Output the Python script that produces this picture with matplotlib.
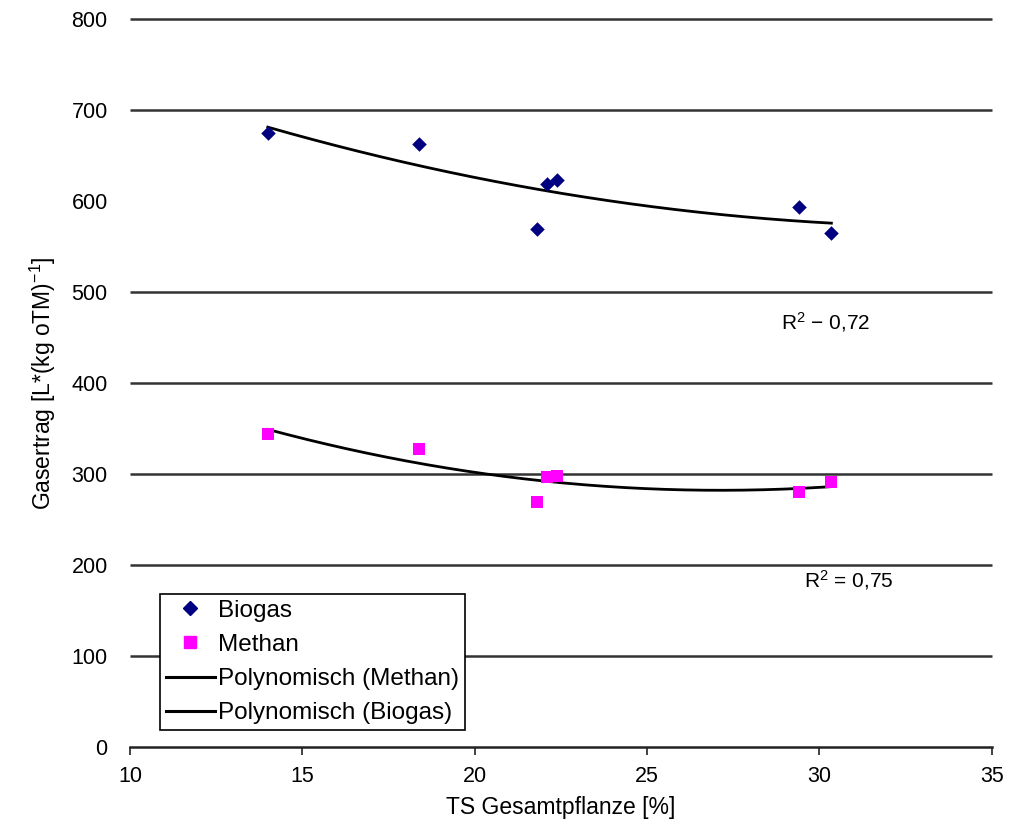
import numpy as np
import matplotlib
matplotlib.use("Agg")
import matplotlib.pyplot as plt
from matplotlib.lines import Line2D

plt.rcParams['font.family'] = ['Liberation Sans', 'DejaVu Sans']
plt.rcParams['mathtext.fontset'] = 'custom'
plt.rcParams['mathtext.rm'] = 'Liberation Sans'
plt.rcParams['mathtext.it'] = 'Liberation Sans'

# Data
ts = [14.0, 18.4, 21.8, 22.1, 22.4, 29.4, 30.35]
biogas = [675, 663, 569, 619, 623, 593, 565]
methan = [344, 328, 269, 297, 298, 280, 291]
x_ticks = [10, 15, 20, 25, 30, 35]
y_ticks = [0, 100, 200, 300, 400, 500, 600, 700, 800]
grid_values = [100, 200, 300, 400, 500, 700, 800]
r2_biogas = "0,72"
r2_methan = "0,75"

fig = plt.figure(figsize=(10.15, 8.27), dpi=100)
ax = fig.add_axes([0.128, 0.0967, 0.849, 0.8803])

ax.set_xlim(10, 35)
ax.set_ylim(0, 800)
ax.set_xticks(x_ticks)
ax.set_yticks(y_ticks)

# horizontal grid (600 line absent in the original)
ax.hlines(grid_values, 10, 35, colors='#333333', linewidth=1.8, zorder=1,
          clip_on=False)

for s in ['left', 'right', 'top']:
    ax.spines[s].set_visible(False)
ax.spines['bottom'].set_color('#222222')
ax.spines['bottom'].set_linewidth(1.8)
ax.tick_params(axis='y', length=0, labelsize=15.5, pad=16)
ax.tick_params(axis='x', length=6, width=1.2, labelsize=15.5, pad=8, color='#222222')

# polynomial trend lines (2nd order)
xs = np.linspace(min(ts), max(ts), 200)
pb = np.polyfit(ts, biogas, 2)
pm = np.polyfit(ts, methan, 2)
ax.plot(xs, np.polyval(pm, xs), color='black', linewidth=2, zorder=3)
ax.plot(xs, np.polyval(pb, xs), color='black', linewidth=2, zorder=3)

ax.scatter(ts, biogas, marker='D', s=55, color='#000080', zorder=4, linewidths=0)
ax.scatter(ts, methan, marker='s', s=85, color='#FF00FF', zorder=4, linewidths=0)

ax.text(28.9, 467, r'R$^2$ − ' + r2_biogas, fontsize=15, va='center', ha='left')
ax.text(29.55, 183, r'R$^2$ = ' + r2_methan, fontsize=15, va='center', ha='left')

ax.set_xlabel('TS Gesamtpflanze [%]', fontsize=16.5, labelpad=6)
ax.set_ylabel(r'Gasertrag [L*(kg oTM)$^{\mathregular{-1}}$]', fontsize=16.5, labelpad=10)

handles = [
    Line2D([], [], marker='D', color='#000080', linestyle='none', markersize=7),
    Line2D([], [], marker='s', color='#FF00FF', linestyle='none', markersize=9),
    Line2D([], [], color='black', linewidth=2.2),
    Line2D([], [], color='black', linewidth=2.2),
]
labels = ['Biogas', 'Methan', 'Polynomisch (Methan)', 'Polynomisch (Biogas)']
leg = ax.legend(handles, labels, loc='lower left', bbox_to_anchor=(0.035, 0.023),
                fontsize=17.5, frameon=True, fancybox=False, framealpha=1,
                edgecolor='black', handlelength=2.0, handletextpad=0.15,
                borderpad=0.25, labelspacing=0.5, borderaxespad=0)
leg.get_frame().set_linewidth(1.2)
leg.set_zorder(5)

fig.savefig('out.png', dpi=100)
